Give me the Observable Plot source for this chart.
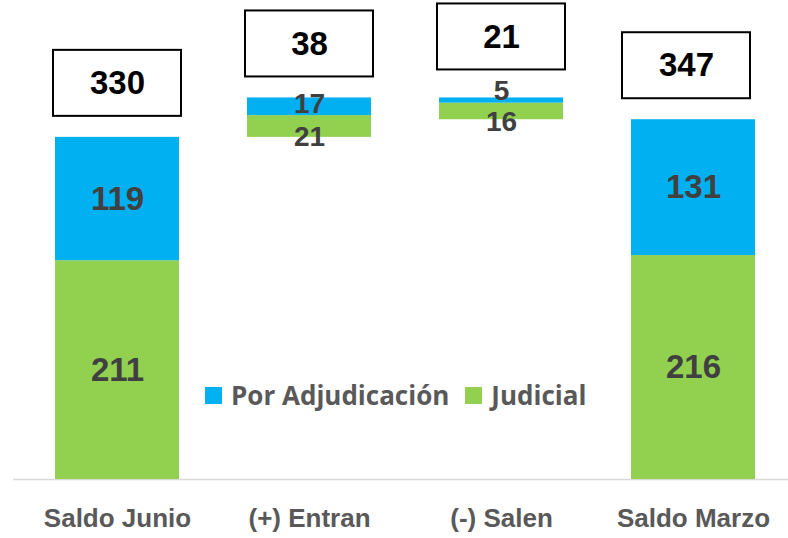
<!DOCTYPE html>
<html>
<head>
<meta charset="utf-8">
<script src="https://cdn.jsdelivr.net/npm/d3@7"></script>
<script src="https://cdn.jsdelivr.net/npm/@observablehq/plot@0.6"></script>
<style>
  html, body { margin: 0; padding: 0; background: #fff; }
  #wrap { position: relative; width: 788px; height: 538px; overflow: hidden; }
  #legend { position: absolute; left: 205px; top: 377px; display: flex; align-items: center;
    font-family: "Open Sans", sans-serif; font-weight: bold; font-size: 26px; color: #595959; line-height: 36px; }
  #legend .sw { width: 17px; height: 17px; display: inline-block; margin-right: 9px; }
  #legend .it { display: flex; align-items: center; margin-right: 16px; }
</style>
</head>
<body>
<div id="wrap"></div>
<script>
const categories = ["Saldo Junio", "(+) Entran", "(-) Salen", "Saldo Marzo"];
const adjudicacion = [119, 17, 5, 131];
const judicial = [211, 21, 16, 216];
const totals = [330, 38, 21, 347];
const seriesNames = ["Por Adjudicación", "Judicial"];
const seriesColors = ["#00B0F0", "#92D050"];

// waterfall bases
const bases = [0, totals[0], totals[0] + totals[1] - totals[2], 0];

const segs = [];
categories.forEach((c, i) => {
  const b = bases[i];
  segs.push({cat: c, series: "Judicial", y1: b, y2: b + judicial[i], v: judicial[i], i});
  segs.push({cat: c, series: "Por Adjudicación", y1: b + judicial[i], y2: b + judicial[i] + adjudicacion[i], v: adjudicacion[i], i});
});
const tops = categories.map((c, i) => ({cat: c, top: bases[i] + judicial[i] + adjudicacion[i], total: totals[i], i}));

const labelFont = "'Liberation Sans', Arial, sans-serif";
const segText = (filter, dy, size = 33) => Plot.text(segs.filter(filter), {
  x: "cat", y: d => (d.y1 + d.y2) / 2, text: d => String(d.v), dy,
  fontSize: size, fontWeight: "bold", fill: "#404040", fontFamily: labelFont
});
const boxRect = (filter, dx, dy) => Plot.rect(tops.filter(filter), {
  x: "cat", y1: "top", y2: "top", insetTop: -87, insetBottom: 21, insetLeft: -2, insetRight: -2,
  fill: "white", stroke: "black", strokeWidth: 2, dx, dy
});
const boxText = (filter, dx, dy) => Plot.text(tops.filter(filter), {
  x: "cat", y: "top", text: d => String(d.total), dx, dy: dy - 54,
  fontSize: 33, fontWeight: "bold", fill: "#000", fontFamily: labelFont
});

const chart = Plot.plot({
  width: 788,
  height: 538,
  marginTop: 0,
  marginBottom: 59,
  marginLeft: 35,
  marginRight: 13,
  x: {domain: categories, paddingInner: 0.356, paddingOuter: 0.1, label: null},
  y: {domain: [0, 462], axis: null},
  color: {domain: seriesNames, range: seriesColors},
  style: {fontFamily: labelFont, background: "white"},
  marks: [
    Plot.ruleY([0], {stroke: "#d9d9d9", strokeWidth: 1.5, insetLeft: -22, insetRight: -13}),
    Plot.rect(segs, {x: "cat", y1: "y1", y2: "y2", fill: "series"}),
    segText(d => d.i === 0 || d.i === 3, 0),
    segText(d => d.i === 1 && d.series === "Por Adjudicación", -3, 28),
    segText(d => d.i === 1 && d.series === "Judicial", 11, 28),
    segText(d => d.i === 2 && d.series === "Por Adjudicación", -10, 28),
    segText(d => d.i === 2 && d.series === "Judicial", 11, 28),
    boxRect(d => d.i < 2, 0, 0),
    boxRect(d => d.i === 2, 0, -7),
    boxRect(d => d.i === 3, -7, 0),
    boxText(d => d.i < 2, 0, 0),
    boxText(d => d.i === 2, 0, -7),
    boxText(d => d.i === 3, -7, 0),
    Plot.axisX({tickSize: 0, tickPadding: 29, fontSize: 26, fontWeight: "bold", color: "#595959", label: null})
  ]
});

const wrap = document.getElementById("wrap");
wrap.appendChild(chart);
const leg = document.createElement("div");
leg.id = "legend";
seriesNames.forEach((n, k) => {
  const it = document.createElement("span");
  it.className = "it";
  const sw = document.createElement("span");
  sw.className = "sw";
  sw.style.background = seriesColors[k];
  it.appendChild(sw);
  it.appendChild(document.createTextNode(n));
  leg.appendChild(it);
});
wrap.appendChild(leg);
</script>
</body>
</html>
